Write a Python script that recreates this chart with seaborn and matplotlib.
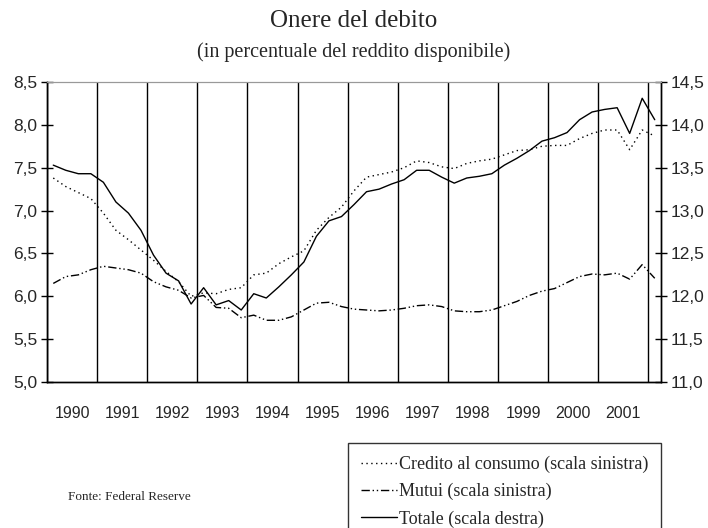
import numpy as np
import pandas as pd
import matplotlib
matplotlib.use("Agg")
import matplotlib.pyplot as plt
import seaborn as sns
from matplotlib.ticker import FixedLocator, FuncFormatter

# Dati trimestrali 1990T1 - 2002T1
anni = [str(a) for a in range(1990, 2002)]

credito = [7.38, 7.28, 7.21, 7.14, 6.97, 6.77, 6.66, 6.54, 6.42, 6.29, 6.17, 6.00,
           6.04, 6.03, 6.08, 6.10, 6.25, 6.27, 6.38, 6.46, 6.53, 6.77, 6.92, 7.04,
           7.23, 7.39, 7.42, 7.45, 7.50, 7.58, 7.56, 7.51, 7.49, 7.55, 7.58, 7.60,
           7.65, 7.70, 7.71, 7.75, 7.76, 7.76, 7.84, 7.90, 7.94, 7.94, 7.71, 7.94,
           7.87]

mutui = [6.15, 6.23, 6.25, 6.31, 6.35, 6.33, 6.31, 6.27, 6.17, 6.11, 6.07, 5.98,
         6.01, 5.87, 5.86, 5.75, 5.78, 5.72, 5.72, 5.76, 5.84, 5.92, 5.93, 5.88,
         5.85, 5.84, 5.83, 5.84, 5.86, 5.89, 5.90, 5.88, 5.83, 5.82, 5.82, 5.84,
         5.89, 5.94, 6.01, 6.06, 6.09, 6.16, 6.23, 6.26, 6.25, 6.27, 6.20, 6.37,
         6.21]

totale = [13.53, 13.47, 13.43, 13.43, 13.33, 13.10, 12.97, 12.77, 12.48, 12.27, 12.18, 11.91,
          12.10, 11.90, 11.95, 11.84, 12.03, 11.98, 12.11, 12.25, 12.40, 12.70, 12.88, 12.93,
          13.07, 13.22, 13.25, 13.31, 13.36, 13.47, 13.47, 13.39, 13.32, 13.38, 13.40, 13.43,
          13.53, 13.61, 13.70, 13.81, 13.85, 13.91, 14.06, 14.15, 14.18, 14.20, 13.90, 14.31,
          14.06]

df = pd.DataFrame({"t": np.arange(len(totale)) + 0.5,
                   "credito": credito, "mutui": mutui, "totale": totale})

sns.set_style("white")
plt.rcParams["font.family"] = ["Liberation Sans", "DejaVu Sans"]

fig = plt.figure(figsize=(7.08, 5.28), dpi=100)
ax = fig.add_axes([47 / 708, 1 - 382 / 528, 614 / 708, 300 / 528])
ax2 = ax.twinx()

sns.lineplot(data=df, x="t", y="credito", ax=ax, color="black", lw=1.0,
             linestyle=(0, (1, 2.5)), label="Credito al consumo (scala sinistra)", legend=False)
sns.lineplot(data=df, x="t", y="mutui", ax=ax, color="black", lw=1.0,
             linestyle=(0, (6, 2, 1, 2, 1, 2)), label="Mutui (scala sinistra)", legend=False)
sns.lineplot(data=df, x="t", y="totale", ax=ax2, color="black", lw=1.0,
             linestyle="-", label="Totale (scala destra)", legend=False)

virgola = FuncFormatter(lambda v, p: f"{v:.1f}".replace(".", ","))

ax.set_xlim(0, len(totale))
ax.set_ylim(5.0, 8.5)
ax2.set_ylim(11.0, 14.5)
ax.set_yticks(np.arange(5.0, 8.51, 0.5))
ax2.set_yticks(np.arange(11.0, 14.51, 0.5))
ax.yaxis.set_major_formatter(virgola)
ax2.yaxis.set_major_formatter(virgola)

# confini d'anno e etichette al centro
confini = np.arange(0, len(anni) * 4 + 1, 4)
ax.xaxis.set_major_locator(FixedLocator(confini))
ax.xaxis.set_minor_locator(FixedLocator(confini[:-1] + 2))
ax.set_xticklabels([""] * len(confini))
ax.set_xticklabels(anni, minor=True)
ax.tick_params(axis="x", which="major", direction="out", length=3, width=1, color="black")
ax.tick_params(axis="x", which="minor", length=0, pad=17, labelsize=11.5)
ax.grid(axis="x", which="major", color="black", lw=1)
ax.grid(axis="y", visible=False)
ax2.grid(False)

ax.tick_params(axis="y", direction="inout", length=8, width=1, color="black", labelsize=12.5, pad=3)
ax2.tick_params(axis="y", direction="inout", length=8, width=1, color="black", labelsize=12.5, pad=3)
ax.set_xlabel("")
ax.set_ylabel("")
ax2.set_ylabel("")

for a in (ax, ax2):
    for s in ("left", "right", "bottom"):
        a.spines[s].set_color("black")
        a.spines[s].set_linewidth(1)
    a.spines["top"].set_color("#999999")

serif = ["Liberation Serif", "DejaVu Serif"]
fig.text(0.5, 1 - 21 / 528, "Onere del debito", ha="center", va="center",
         family=serif, fontsize=18)
fig.text(0.5, 1 - 52 / 528, "(in percentuale del reddito disponibile)", ha="center",
         va="center", family=serif, fontsize=14.5)
fig.text(68 / 708, 1 - 497 / 528, "Fonte: Federal Reserve", ha="left", va="center",
         family=serif, fontsize=9.5)

h1, l1 = ax.get_legend_handles_labels()
h2, l2 = ax2.get_legend_handles_labels()
leg = fig.legend(h1 + h2, l1 + l2, loc="upper left", bbox_to_anchor=(348 / 708, 1 - 443 / 528),
                 borderaxespad=0, frameon=True, fancybox=False, edgecolor="black",
                 handlelength=2.0, handletextpad=0.15, labelspacing=0.56, borderpad=0.7,
                 prop={"family": serif, "size": 13})
leg.get_frame().set_linewidth(1)

fig.savefig("out.png", dpi=100)
